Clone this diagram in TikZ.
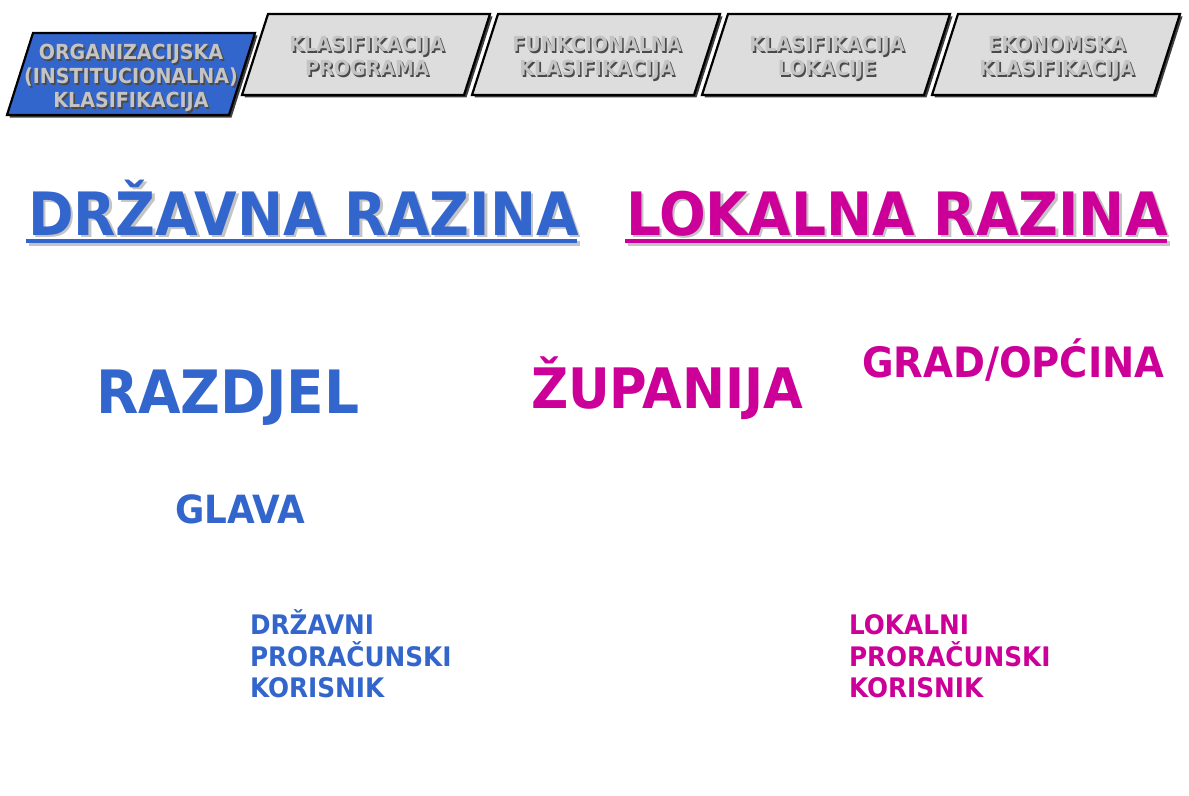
\documentclass[tikz,border=0pt]{standalone}
\usepackage{fontspec}
\newfontfamily\tah[FakeStretch=0.92]{DejaVu Sans Bold}
\definecolor{rblue}{HTML}{3366CC}
\definecolor{rmag}{HTML}{CC0099}
\definecolor{tabgray}{HTML}{DDDDDD}
\definecolor{tabtxt}{HTML}{C4C4C4}
\definecolor{tabshd}{HTML}{4A4A4A}
\definecolor{hshd}{HTML}{C4C4C4}
\newcommand\mytab[4]{% top-left x, top y, bottom y, fill
  \fill[black!75] (#1+2.5,#2+2.5) -- (#1+222+2.5,#2+2.5) -- (#1+196+2.5,#3+2.5) -- (#1-26+2.5,#3+2.5) -- cycle;
  \draw[tabedge, fill=#4] (#1,#2) -- (#1+222,#2) -- (#1+196,#3) -- (#1-26,#3) -- cycle;}
\newcommand\tabline[4]{% name, x, y, text
  \node[tablbl, text=tabshd] at (#2+1.6,#3+1.6) {#4};
  \node[tablbl, text=tabtxt] (#1) at (#2,#3) {#4};}
\begin{document}
\begin{tikzpicture}[x=1bp,y=-1bp,
  tabedge/.style={draw=black, line width=2.2bp, line join=miter},
  tablbl/.style={inner sep=0pt, outer sep=0pt, anchor=base, font=\tah\fontsize{20.8}{24}\selectfont},
  head/.style={inner sep=0pt, outer sep=0pt, anchor=base west, font=\tah\fontsize{60}{60}\selectfont},
  big/.style={inner sep=0pt, outer sep=0pt, anchor=base west, font=\tah\fontsize{60}{60}\selectfont},
  mid/.style={inner sep=0pt, outer sep=0pt, anchor=base west, font=\tah\fontsize{56}{56}\selectfont},
  med/.style={inner sep=0pt, outer sep=0pt, anchor=base west, font=\tah\fontsize{42}{42}\selectfont},
  sml/.style={inner sep=0pt, outer sep=0pt, anchor=base west, font=\tah\fontsize{39}{39}\selectfont},
  small/.style={inner sep=0pt, outer sep=0pt, anchor=base west, font=\tah\fontsize{27}{27}\selectfont},
  uline/.style={line width=4.5bp}]
\useasboundingbox (0,0) rectangle (1189,796);
\fill[white] (0,0) rectangle (1189,796);

% tabs
\mytab{33}{33}{115}{rblue}
\mytab{268}{14}{95}{tabgray}
\mytab{498}{14}{95}{tabgray}
\mytab{728}{14}{95}{tabgray}
\mytab{958}{14}{95}{tabgray}

\tabline{t1a}{131}{60}{ORGANIZACIJSKA}
\tabline{t1b}{131}{84}{(INSTITUCIONALNA)}
\tabline{t1c}{131}{107.5}{KLASIFIKACIJA}
\tabline{t2a}{367}{52}{KLASIFIKACIJA}
\tabline{t2b}{367}{75.5}{PROGRAMA}
\tabline{t3a}{597}{52}{FUNKCIONALNA}
\tabline{t3b}{597}{75.5}{KLASIFIKACIJA}
\tabline{t4a}{827}{52}{KLASIFIKACIJA}
\tabline{t4b}{827}{75.5}{LOKACIJE}
\tabline{t5a}{1057}{52}{EKONOMSKA}
\tabline{t5b}{1057}{75.5}{KLASIFIKACIJA}

% headings with shadow
\node[head, text=hshd] at (30.5,237.5) {DRŽAVNA RAZINA};
\draw[uline, hshd] (28.5,243.5) -- (579.5,243.5);
\node[head, text=rblue] (drz) at (28,235) {DRŽAVNA RAZINA};
\draw[uline, rblue] (26,241) -- (577,241);

\node[head, text=hshd] at (628.5,237.5) {LOKALNA RAZINA};
\draw[uline, hshd] (627.5,243.5) -- (1169.5,243.5);
\node[head, text=rmag] (lok) at (626,235) {LOKALNA RAZINA};
\draw[uline, rmag] (625,241) -- (1167,241);

% levels
\node[big, text=rblue] (razdjel) at (96,413) {RAZDJEL};
\node[sml, text=rblue] (glava) at (175,523) {GLAVA};
\node[mid, text=rmag] (zup) at (531,408) {ŽUPANIJA};
\node[med, text=rmag] (grad) at (862,377) {GRAD/OPĆINA};

\node[small, text=rblue] (dpk1) at (250,634) {DRŽAVNI};
\node[small, text=rblue] (dpk2) at (250,666) {PRORAČUNSKI};
\node[small, text=rblue] (dpk3) at (250,697) {KORISNIK};
\node[small, text=rmag] (lpk1) at (849,634) {LOKALNI};
\node[small, text=rmag] (lpk2) at (849,666) {PRORAČUNSKI};
\node[small, text=rmag] (lpk3) at (849,697) {KORISNIK};
\end{tikzpicture}
\end{document}
